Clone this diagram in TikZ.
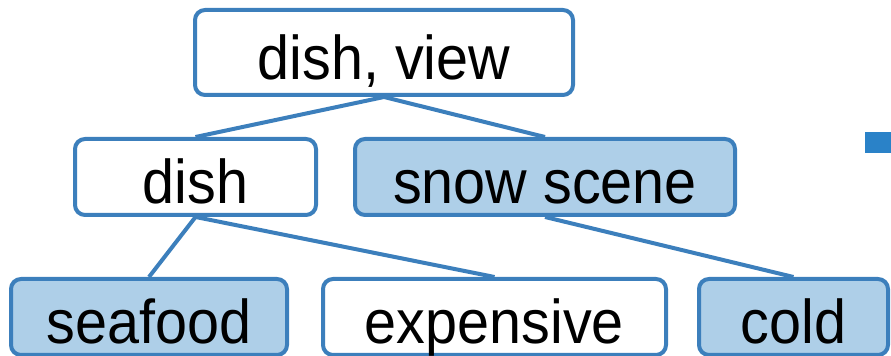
\documentclass[tikz,border=0pt]{standalone}
\usepackage{fontspec}
\setmainfont{Liberation Sans}[FakeStretch=0.93]
\usepackage{tikz}
\definecolor{treeline}{HTML}{3C7FBC}
\definecolor{treefill}{HTML}{AECFE8}
\definecolor{markblue}{HTML}{2A82C8}
\tikzset{
  tag/.style={draw=treeline,line width=0.1cm,rounded corners=0.25cm,fill=white,
    minimum height=1.9cm,inner sep=0pt,text height=1.35cm,text depth=0pt,
    font=\fontsize{44}{50}\selectfont},
  picked/.style={tag,fill=treefill},
  branch/.style={draw=treeline,line width=0.1cm}
}

\begin{document}
\begin{tikzpicture}
            \useasboundingbox (0,0) rectangle (22.275,8.9);
            \node[anchor=base west,inner sep=0pt,font=\fontsize{44}{50}\selectfont] (tail) at (4.45,9.25) {y};
            \node[tag,minimum width=9.45cm,minimum height=2.125cm] (root) at (9.6,7.5875) {dish, view};
            \node[tag,minimum width=6.025cm] (dish) at (4.8875,4.475) {dish};
            \node[picked,minimum width=9.5cm] (snow) at (13.625,4.475) {snow scene};
            \node[picked,minimum width=6.9cm] (seafood) at (3.725,0.975) {seafood};
            \node[tag,minimum width=8.575cm] (expensive) at (12.3625,0.975) {expensive};
            \node[picked,minimum width=4.725cm] (cold) at (19.8375,0.975) {cold};
            \foreach \a/\b in {root/dish,root/snow,dish/seafood,dish/expensive,snow/cold}
                \draw[branch] (\a.south) -- (\b.north);
            \fill[markblue] (21.625,5.075) rectangle (22.4,5.6);
        \end{tikzpicture}
\end{document}
